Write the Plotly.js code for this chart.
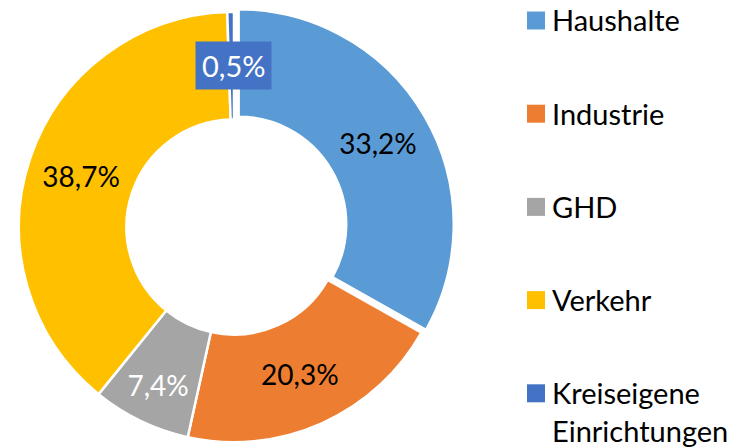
<!DOCTYPE html>
<html><head><meta charset="utf-8">
<script src="https://cdn.plot.ly/plotly-3.0.1.min.js"></script>
<style>html,body{margin:0;padding:0;background:#fff;}#chart{width:736px;height:448px;}</style>
</head><body><div id="chart"></div>
<script>
const categories = ['Haushalte', 'Industrie', 'GHD', 'Verkehr', 'Kreiseigene Einrichtungen'];
const legendLabels = ['Haushalte', 'Industrie', 'GHD', 'Verkehr', 'Kreiseigene<br>Einrichtungen'];
const values = [33.2, 20.3, 7.4, 38.7, 0.5];
const colors = ['#5B9BD5', '#ED7D31', '#A5A5A5', '#FFC000', '#4472C4'];
const labelColors = ['#000000', '#000000', '#FFFFFF', '#000000', '#FFFFFF'];
const pulls = [0.025, 0, 0, 0, 0];

const fmt = v => v.toFixed(1).replace('.', ',') + '%';
const texts = values.map(fmt);
const FONT = 'Lato, "Liberation Sans", sans-serif';
const W = 736, H = 448;

const trace = {
  type: 'pie',
  labels: categories,
  values: values,
  text: texts.map((t, i) => i === 4 ? '' : t),
  textinfo: 'text',
  textposition: values.map((v, i) => i === 4 ? 'none' : 'inside'),
  insidetextorientation: 'horizontal',
  insidetextfont: {family: FONT, size: 28, color: labelColors},
  hole: 0.5,
  sort: false,
  direction: 'clockwise',
  rotation: 0,
  pull: pulls,
  marker: {colors: colors, line: {color: '#FFFFFF', width: 2.5}},
  domain: {x: [13.5 / W, 454.5 / W], y: [0.5 / H, 441.5 / H]},
  showlegend: false,
  hoverinfo: 'label+text'
};

const annotations = [];
const shapes = [];
const legendY0 = 20.5, legendStep = 93.2;
categories.forEach((c, i) => {
  const yc = legendY0 + i * legendStep;
  shapes.push({type: 'rect', xref: 'paper', yref: 'paper',
    x0: 527 / W, x1: 545 / W, y0: 1 - (yc + 9) / H, y1: 1 - (yc - 9) / H,
    fillcolor: colors[i], line: {width: 0}});
  annotations.push({xref: 'paper', yref: 'paper', x: 550 / W, y: 1 - (yc - 20) / H,
    xanchor: 'left', yanchor: 'top', align: 'left', showarrow: false,
    text: legendLabels[i], font: {family: FONT, size: 29, color: '#000'}});
});
// label for the tiny slice, boxed in its slice colour
annotations.push({xref: 'paper', yref: 'paper', x: 233.5 / W, y: 1 - 65.5 / H,
  xanchor: 'center', yanchor: 'middle', showarrow: false,
  text: texts[4], font: {family: FONT, size: 29, color: labelColors[4]},
  bgcolor: colors[4], borderpad: 6});

const layout = {
  width: W, height: H,
  margin: {l: 0, r: 0, t: 0, b: 0},
  paper_bgcolor: '#FFFFFF',
  showlegend: false,
  shapes: shapes,
  annotations: annotations
};
Plotly.newPlot('chart', [trace], layout, {displayModeBar: false, staticPlot: true});
</script></body></html>
